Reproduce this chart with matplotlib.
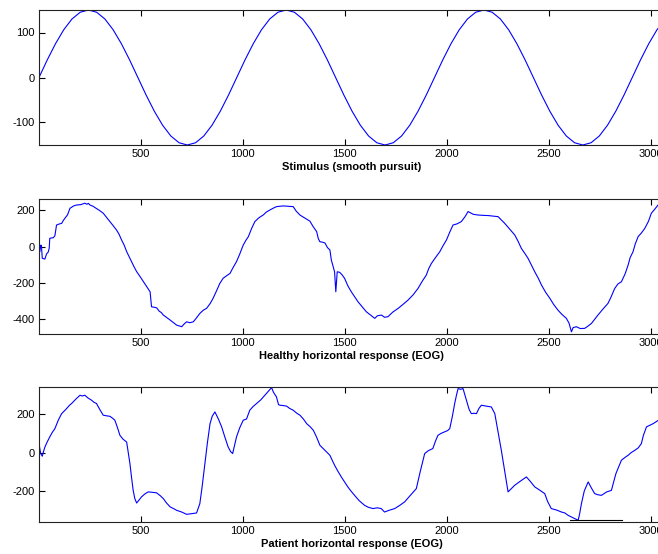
import numpy as np
import matplotlib
matplotlib.use("Agg")
import matplotlib.pyplot as plt

plt.rcParams['font.family'] = ['Liberation Sans', 'DejaVu Sans']
plt.rcParams['axes.unicode_minus'] = False

# stimulus: one sample every ~40.4 time units
stim_step = 40.42
stim = [0, 39, 75, 106, 130, 145, 150, 145, 130, 106, 75, 39,
        0, -39, -75, -106, -130, -145, -150, -145, -130, -106, -75, -39,
        0, 39, 75, 106, 130, 145, 150, 145, 130, 106, 75, 39,
        0, -39, -75, -106, -130, -145, -150, -145, -130, -106, -75, -39,
        0, 39, 75, 106, 130, 145, 150, 145, 130, 106, 75, 39,
        0, -39, -75, -106, -130, -145, -150, -145, -130, -106, -75, -39,
        0, 39, 75, 106, 130]

# (time, value)
healthy_pts = [
    (0, 0), (4, -28), (9, 9), (12, 5), (16, -64), (29, -68), (37, -40), (45, -30),
    (50, -9), (53, 46), (62, 48), (70, 49), (78, 60), (86, 119), (100, 125), (111, 128),
    (120, 145), (127, 156), (140, 175), (152, 211), (170, 224), (184, 229), (205, 231),
    (225, 239), (235, 233), (242, 238), (250, 229), (265, 222), (282, 210), (298, 198),
    (315, 184), (330, 163), (348, 138), (362, 118), (380, 92), (392, 70), (405, 37),
    (418, 8), (430, -27), (442, -55), (454, -82), (466, -110), (479, -137), (495, -163),
    (512, -192), (528, -220), (545, -248), (552, -330), (565, -333), (577, -336),
    (590, -355), (600, -362), (610, -376), (625, -388), (643, -403), (660, -418),
    (675, -431), (688, -436), (700, -440), (712, -425), (724, -413), (740, -418),
    (757, -413), (770, -395), (789, -367), (805, -350), (822, -339), (840, -312),
    (854, -284), (870, -245), (887, -202), (903, -174), (920, -160), (937, -147),
    (952, -115), (969, -82), (985, -40), (1002, 9), (1015, 35), (1027, 55), (1043, 100),
    (1059, 138), (1080, 160), (1100, 174), (1115, 190), (1133, 202), (1150, 212),
    (1165, 220), (1180, 222), (1198, 224), (1220, 222), (1247, 220), (1262, 195),
    (1280, 174), (1300, 160), (1329, 140), (1345, 110), (1362, 83), (1370, 45),
    (1378, 27), (1390, 25), (1403, 20), (1415, -5), (1427, -18), (1434, -73),
    (1450, -138), (1456, -248), (1459, -200), (1463, -138), (1475, -141), (1487, -155),
    (1499, -174), (1515, -215), (1532, -248), (1548, -275), (1565, -303), (1585, -330),
    (1606, -358), (1625, -375), (1647, -394), (1660, -380), (1680, -376), (1695, -388),
    (1712, -385), (1735, -360), (1762, -339), (1785, -318), (1810, -294), (1835, -265),
    (1859, -230), (1880, -190), (1900, -156), (1912, -120), (1925, -92), (1945, -60),
    (1966, -28), (1982, 5), (1999, 37), (2015, 80), (2031, 119), (2050, 125),
    (2072, 138), (2090, 165), (2105, 193), (2130, 178), (2153, 174), (2180, 172),
    (2203, 171), (2230, 168), (2252, 165), (2270, 145), (2284, 129), (2310, 95),
    (2334, 64), (2350, 30), (2366, -9), (2382, -35), (2399, -64), (2415, -100),
    (2432, -138), (2450, -175), (2465, -211), (2485, -250), (2506, -284), (2525, -318),
    (2546, -349), (2565, -372), (2587, -394), (2600, -420), (2612, -468), (2620, -445),
    (2636, -440), (2655, -450), (2677, -449), (2695, -435), (2710, -422), (2725, -400),
    (2742, -376), (2765, -345), (2791, -312), (2805, -280), (2824, -230), (2840, -205),
    (2857, -193), (2875, -150), (2890, -101), (2900, -60), (2914, -28), (2925, 15),
    (2939, 55), (2955, 75), (2972, 101), (2990, 140), (3004, 184), (3020, 205),
    (3037, 229), (3066, 255)]

# (time, value)
patient_pts = [
    (0, 47), (8, -5), (16, -19), (22, 5), (29, 29), (40, 55), (53, 82), (65, 105),
    (78, 125), (95, 170), (111, 203), (122, 215), (135, 229), (148, 245), (160, 256),
    (180, 278), (201, 299), (212, 295), (225, 299), (240, 285), (258, 273), (270, 262),
    (282, 256), (298, 225), (315, 195), (330, 192), (348, 189), (360, 180), (372, 169),
    (385, 130), (397, 90), (412, 70), (430, 55), (438, 0), (446, -57), (454, -130),
    (462, -197), (470, -240), (479, -263), (490, -248), (503, -231), (520, -215),
    (536, -205), (555, -207), (577, -210), (595, -225), (610, -240), (625, -262),
    (643, -283), (660, -292), (675, -301), (700, -310), (724, -322), (750, -318),
    (773, -315), (789, -266), (800, -180), (814, -57), (826, 50), (839, 151), (850, 190),
    (863, 212), (880, 175), (896, 134), (912, 80), (928, 29), (940, 5), (950, -5),
    (960, 40), (969, 82), (985, 130), (1002, 169), (1018, 175), (1034, 221), (1050, 240),
    (1067, 256), (1088, 275), (1108, 299), (1125, 320), (1141, 339), (1150, 315),
    (1165, 290), (1175, 250), (1182, 247), (1200, 245), (1215, 242), (1230, 230),
    (1247, 221), (1265, 205), (1280, 195), (1297, 175), (1313, 151), (1330, 135),
    (1346, 116), (1362, 80), (1378, 38), (1400, 15), (1427, -14), (1450, -66),
    (1465, -95), (1483, -127), (1500, -155), (1515, -179), (1530, -200), (1548, -223),
    (1570, -250), (1597, -275), (1615, -285), (1638, -292), (1660, -288), (1679, -292),
    (1695, -310), (1720, -300), (1745, -292), (1770, -275), (1794, -257), (1820, -225),
    (1851, -188), (1870, -100), (1892, -5), (1910, 10), (1932, 21), (1945, 60),
    (1957, 90), (1972, 100), (1990, 108), (2005, 115), (2015, 125), (2028, 190),
    (2039, 255), (2048, 300), (2056, 334), (2068, 330), (2080, 334), (2095, 280),
    (2110, 225), (2121, 203), (2135, 205), (2146, 203), (2158, 230), (2170, 247),
    (2195, 242), (2219, 238), (2236, 203), (2250, 120), (2268, 12), (2285, -100),
    (2301, -205), (2315, -190), (2333, -171), (2360, -150), (2391, -127), (2410, -150),
    (2432, -179), (2455, -195), (2481, -214), (2495, -255), (2513, -292), (2540, -300),
    (2563, -310), (2580, -315), (2595, -327), (2620, -340), (2645, -353), (2652, -320),
    (2661, -266), (2675, -200), (2694, -153), (2710, -185), (2726, -214), (2742, -220),
    (2759, -223), (2785, -205), (2808, -197), (2830, -110), (2857, -40), (2875, -25),
    (2890, -14), (2905, 0), (2923, 12), (2940, 25), (2955, 47), (2965, 90), (2980, 134),
    (2995, 142), (3013, 151), (3037, 168), (3066, 185)]

base_t = [2605, 2860]
base_v = [-350, -350]

healthy_t, healthy = zip(*healthy_pts)
patient_t, patient = zip(*patient_pts)

fig = plt.figure(figsize=(6.58, 5.54), dpi=100)
left, width, h = 39 / 658, 625 / 658, 135 / 554
tops = [10, 199, 387]
panels = [
    (np.arange(len(stim)) * stim_step, stim, (-150, 150), [-100, 0, 100],
     'Stimulus (smooth pursuit)'),
    (healthy_t, healthy, (-480, 262), [-400, -200, 0, 200],
     'Healthy horizontal response (EOG)'),
    (patient_t, patient, (-362, 342), [-200, 0, 200],
     'Patient horizontal response (EOG)'),
]
for top, (t, v, ylim, yt, lab) in zip(tops, panels):
    ax = fig.add_axes([left, 1 - (top + 135) / 554, width, h])
    ax.plot(t, v, color='#0000ff', lw=0.8)
    if lab.startswith('Patient'):
        ax.plot(base_t, base_v, color='black', lw=0.8)
    ax.set_xlim(0, 3066)
    ax.set_ylim(*ylim)
    ax.set_xticks([500, 1000, 1500, 2000, 2500, 3000])
    ax.set_yticks(yt)
    ax.tick_params(direction='in', length=4, labelsize=8, top=True, right=True,
                   pad=3, width=0.8)
    for s in ax.spines.values():
        s.set_linewidth(0.8)
        s.set_color('#222222')
    ax.set_xlabel(lab, fontsize=8, fontweight='bold', labelpad=2)

fig.savefig('out.png', dpi=100)
